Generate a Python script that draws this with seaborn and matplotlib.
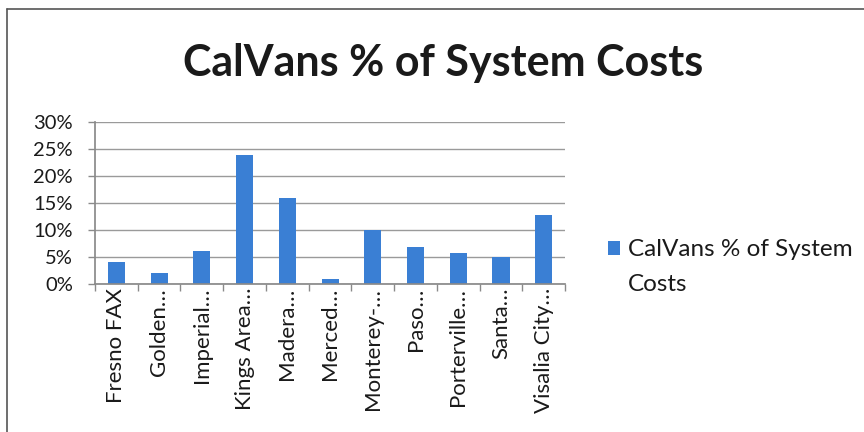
import matplotlib
matplotlib.use("Agg")
import matplotlib.pyplot as plt
from matplotlib.lines import Line2D
from matplotlib.patches import Patch
from matplotlib.ticker import FixedLocator, PercentFormatter
import seaborn as sns
import pandas as pd

categories = ["Fresno FAX", "Golden\u2026", "Imperial\u2026", "Kings Area\u2026", "Madera\u2026",
              "Merced\u2026", "Monterey-\u2026", "Paso\u2026", "Porterville\u2026", "Santa\u2026",
              "Visalia City\u2026"]
values = [4.1, 2.0, 6.0, 23.9, 15.9, 0.9, 9.9, 6.9, 5.8, 4.9, 12.8]
yticks = [0, 5, 10, 15, 20, 25, 30]
title = "CalVans % of System Costs"
series_name_lines = ["CalVans % of System", "Costs"]

sns.set_theme(style="white")
plt.rcParams['font.family'] = ['Lato', 'DejaVu Sans']

df = pd.DataFrame({"cat": categories, "val": values})
bar_color = "#3a7fd4"
text_color = "#1a1a1a"

fig = plt.figure(figsize=(8.64, 4.32), dpi=100)
ax = fig.add_axes([0.110, 0.343, 0.544, 0.375])
sns.barplot(data=df, x="cat", y="val", color=bar_color, width=0.4, ax=ax,
            saturation=1, edgecolor="none")

ax.set_ylim(0, 30)
ax.set_xlim(-0.5, len(categories) - 0.5)
ax.set_yticks(yticks)
ax.yaxis.set_major_formatter(PercentFormatter(decimals=0))
ax.grid(axis="y", color="#9a9a9a", linewidth=1.0)
ax.set_axisbelow(True)
ax.set_xlabel("")
ax.set_ylabel("")
for s in ["top", "right"]:
    ax.spines[s].set_visible(False)
ax.spines["left"].set_color("#8a8a8a")
ax.spines["bottom"].set_color("#8a8a8a")

ax.tick_params(axis="y", labelsize=14.5, colors="#8a8a8a", labelcolor=text_color,
               left=True, length=5, width=1, pad=11)
ax.tick_params(axis="x", which="major", labelsize=16, labelcolor=text_color,
               bottom=False, length=0, pad=3, labelrotation=90)
ax.xaxis.set_minor_locator(FixedLocator([i - 0.5 for i in range(len(categories) + 1)]))
ax.tick_params(axis="x", which="minor", bottom=True, length=5, width=1, color="#8a8a8a")

fig.text(0.513, 0.824, title, ha="center", va="baseline", fontsize=31, fontweight="bold",
         color=text_color)

handle = Patch(facecolor=bar_color, edgecolor="none")
leg = fig.legend([handle], [series_name_lines[0]], loc="upper left",
                 bbox_to_anchor=(0.704, 0.446),
                 frameon=False, fontsize=17.5, handlelength=0.5, handleheight=0.5,
                 handletextpad=0.3, borderaxespad=0, borderpad=0)
for t in leg.get_texts():
    t.set_color(text_color)

# second line of the wrapped legend label, aligned under the first line
fig.canvas.draw()
bb = leg.get_texts()[0].get_window_extent(fig.canvas.get_renderer())
x0 = bb.x0 / fig.bbox.width
y_line2 = (bb.y0 - 35) / fig.bbox.height
fig.text(x0, y_line2, series_name_lines[1], ha="left", va="bottom", fontsize=17.5,
         color=text_color)

# chart frame (top and left edges visible)
fig.add_artist(Line2D([0.008, 1.0], [0.979, 0.979], transform=fig.transFigure,
                      color="#555555", linewidth=1.2))
fig.add_artist(Line2D([0.008, 0.008], [0.0, 0.979], transform=fig.transFigure,
                      color="#555555", linewidth=1.2))

fig.savefig("out.png", dpi=100)
